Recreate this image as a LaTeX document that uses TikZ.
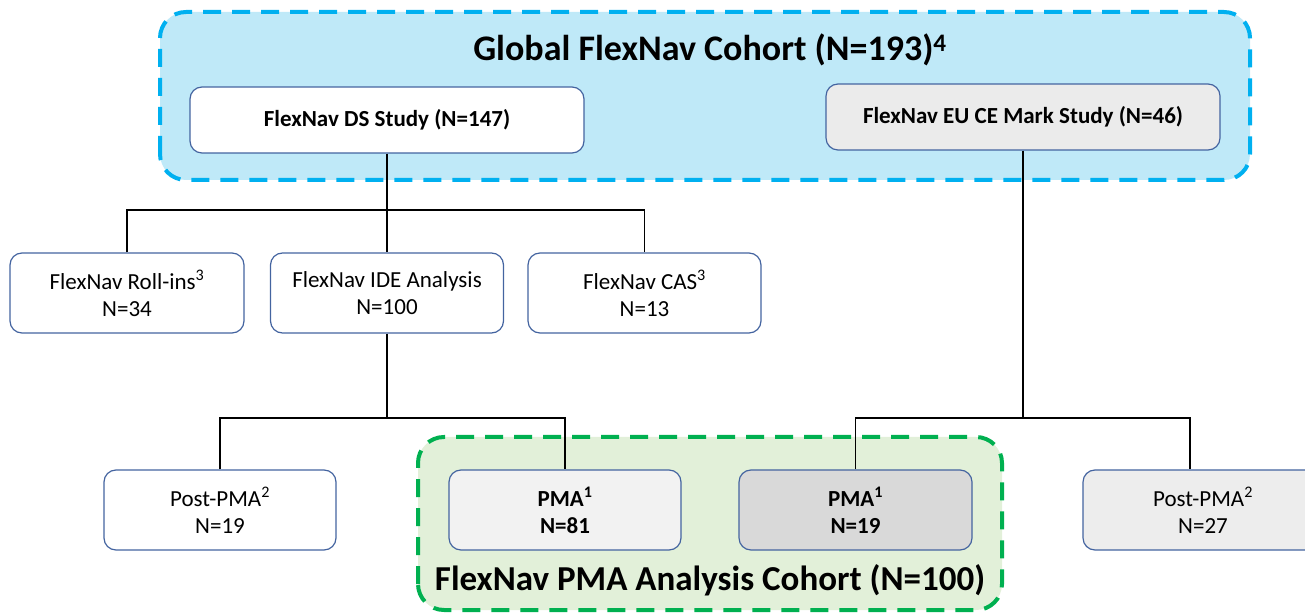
\documentclass[tikz,border=0pt]{standalone}
\usepackage{fontspec}
\setmainfont{Carlito}
\usetikzlibrary{positioning}

\definecolor{cohortblue}{RGB}{0,176,240}
\definecolor{cohortbluefill}{RGB}{191,233,248}
\definecolor{cohortgreen}{RGB}{0,176,80}
\definecolor{cohortgreenfill}{RGB}{226,240,217}
\definecolor{boxedge}{RGB}{68,100,160}

\tikzset{
  studybox/.style={draw=boxedge, line width=1.2pt, rounded corners=12pt, minimum height=66pt,
    minimum width=394pt, font=\fontsize{23}{27}\selectfont\bfseries, align=center},
  armbox/.style={draw=boxedge, line width=1.2pt, rounded corners=12pt, minimum height=80pt,
    minimum width=233pt, font=\fontsize{23}{27}\selectfont, align=center},
  link/.style={draw=black, line width=1.5pt},
  cohort/.style={line width=4pt, rounded corners=26pt, dash pattern=on 18pt off 11pt}
}

\begin{document}
\begin{tikzpicture}[x=1pt, y=1pt]

        \clip (0,0) rectangle (1305,613);

        % cohorts
        \filldraw[cohort, draw=cohortblue, fill=cohortbluefill] (160,433) rectangle (1250,601);
        \filldraw[cohort, draw=cohortgreen, fill=cohortgreenfill] (418,3) rectangle (1002,176);

        \node[font=\fontsize{36}{40}\selectfont\bfseries] (global) at (710,563) {Global FlexNav Cohort (N=193)\textsuperscript{4}};
        \node[font=\fontsize{35}{40}\selectfont\bfseries] (pmacohort) at (710,33) {FlexNav PMA Analysis Cohort (N=100)};

        % studies
        \node[studybox, fill=white] (ds) at (387,493) {FlexNav DS Study (N=147)};
        \node[studybox, fill=black!8] (eu) at (1023,496) {FlexNav EU CE Mark Study (N=46)};

        % second row
        \node[armbox, fill=white, minimum width=234pt] (rollin) at (127,320) {FlexNav Roll-ins\textsuperscript{3}\\N=34};
        \node[armbox, fill=white] (ide) at (387,320) {FlexNav IDE Analysis\\N=100};
        \node[armbox, fill=white] (cas) at (644.5,320) {FlexNav CAS\textsuperscript{3}\\N=13};

        % third row
        \node[armbox, fill=white, minimum width=232pt] (postds) at (220,103) {Post-PMA\textsuperscript{2}\\N=19};
        \node[armbox, fill=black!5, minimum width=232pt, font=\fontsize{23}{27}\selectfont\bfseries] (pmads) at (565,103) {PMA\textsuperscript{1}\\N=81};
        \node[armbox, fill=black!15, font=\fontsize{23}{27}\selectfont\bfseries] (pmaeu) at (855.5,103) {PMA\textsuperscript{1}\\N=19};
        \node[armbox, fill=black!7, minimum width=240pt] (posteu) at (1203,103) {Post-PMA\textsuperscript{2}\\N=27};

        % connectors
        \coordinate (busds) at (387,403);
        \coordinate (buside) at (387,195);
        \coordinate (buseu) at (1023,195);

        \draw[link] (ds) -- (ide);
        \draw[link] (rollin.north) |- (busds) -| (cas.north);
        \draw[link] (ide) -- (buside);
        \draw[link] (postds.north) |- (buside) -| (pmads.north);
        \draw[link] (eu) -- (buseu);
        \draw[link] (pmaeu.north) |- (buseu) -| ([xshift=-13pt]posteu.north);

\end{tikzpicture}
\end{document}
